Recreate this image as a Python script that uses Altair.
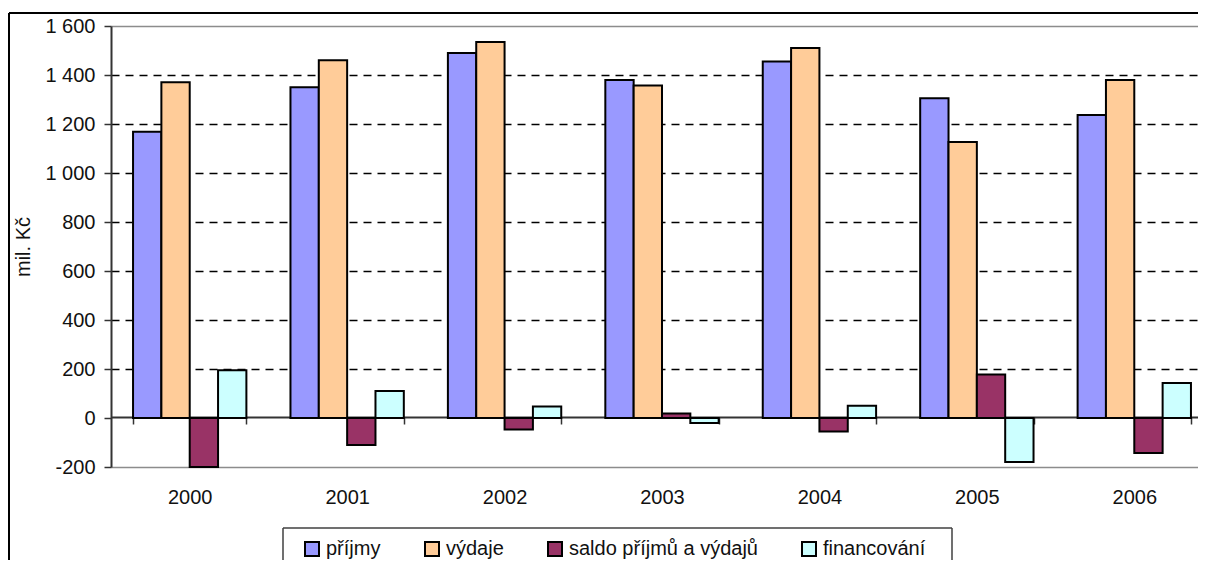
import altair as alt
import pandas as pd

years = ["2000", "2001", "2002", "2003", "2004", "2005", "2006"]
series = ["příjmy", "výdaje", "saldo příjmů a výdajů", "financování"]
prijmy = [1168, 1350, 1490, 1380, 1455, 1305, 1237]
vydaje = [1370, 1460, 1535, 1357, 1510, 1127, 1380]
saldo = [-200, -110, -47, 18, -55, 178, -143]
financovani = [195, 110, 47, -20, 50, -180, 143]
colors = ["#9999FF", "#FFCC99", "#993366", "#CCFFFF"]
y_ticks = [-200, 0, 200, 400, 600, 800, 1000, 1200, 1400, 1600]

rows = []
for s, vals in zip(series, [prijmy, vydaje, saldo, financovani]):
    for yr, v in zip(years, vals):
        rows.append({"year": yr, "series": s, "value": v})
df = pd.DataFrame(rows)

FONT = "Liberation Sans"
TXT = "#111111"
W, H = 1087, 441
PAD = {"left": 103, "top": 18, "right": 0, "bottom": 93}

bars = alt.Chart(df).mark_bar(stroke="black", strokeWidth=2).encode(
    x=alt.X(
        "year:N",
        sort=years,
        scale=alt.Scale(range=[0, 1102], paddingInner=0.28, paddingOuter=0.14),
        axis=alt.Axis(
            title=None, offset=-50, tickBand="extent", tickSize=7,
            tickColor="#333333", tickWidth=1.5, domainColor="#333333",
            domainWidth=2, labelAngle=0, labelFontSize=20, labelFont=FONT,
            labelColor=TXT, labelPadding=63,
        ),
    ),
    xOffset=alt.XOffset("series:N", sort=series,
                        scale=alt.Scale(paddingInner=0, paddingOuter=0)),
    y=alt.Y(
        "value:Q",
        scale=alt.Scale(domain=[-200, 1600], nice=False, zero=False),
        axis=alt.Axis(
            values=y_ticks, title="mil. Kč", titleFontSize=20, titleFont=FONT,
            titleFontWeight="normal", titleColor=TXT, titleAngle=270,
            titleX=-88, titleY=220.5, titleAlign="center", titleBaseline="middle",
            labelExpr="replace(replace(format(datum.value, ','), ',', ' '), '\u2212', '-')",
            labelFontSize=20, labelFont=FONT, labelColor=TXT, labelPadding=9,
            tickSize=7, tickColor="#333333", tickWidth=1.5,
            domainColor="#333333", domainWidth=2,
            grid=True, gridWidth=1.5,
            gridColor={"condition": {"test": "datum.value == 1600 || datum.value == -200",
                                     "value": "#8c8c8c"}, "value": "#000000"},
            gridDash={"condition": {"test": "datum.value == 1600 || datum.value == -200",
                                    "value": []}, "value": [8, 6]},
            gridOpacity={"condition": {"test": "datum.value == 0", "value": 0}, "value": 1},
        ),
    ),
    color=alt.Color(
        "series:N", sort=series,
        scale=alt.Scale(domain=series, range=colors),
        legend=alt.Legend(
            title=None, orient="none", legendX=191, legendY=513,
            direction="horizontal", symbolType="square", symbolSize=196,
            symbolStrokeColor="black", symbolStrokeWidth=2, symbolOpacity=1,
            labelFontSize=20, labelFont=FONT, labelColor=TXT, labelOffset=4,
            labelLimit=400, columnPadding=40, padding=0,
        ),
    ),
)

bottom = H + PAD["bottom"]
one = pd.DataFrame({"a": [0]})
# outer chart frame (left and top edges; the rest lies outside the picture)
frame_top = alt.Chart(one).mark_rule(color="black", strokeWidth=2).encode(
    x=alt.value(-102), x2=alt.value(W + 20), y=alt.value(-13)
)
frame_left = alt.Chart(one).mark_rule(color="black", strokeWidth=2).encode(
    x=alt.value(-102), y=alt.value(-13), y2=alt.value(bottom)
)
# legend box edges
box_top = alt.Chart(one).mark_rule(color="#404040", strokeWidth=1.5).encode(
    x=alt.value(172), x2=alt.value(841), y=alt.value(502)
)
box_left = alt.Chart(one).mark_rule(color="#404040", strokeWidth=1.5).encode(
    x=alt.value(172), y=alt.value(502), y2=alt.value(bottom)
)
box_right = alt.Chart(one).mark_rule(color="#404040", strokeWidth=1.5).encode(
    x=alt.value(841), y=alt.value(502), y2=alt.value(bottom)
)

chart = alt.layer(frame_top, frame_left, box_top, box_left, box_right, bars).properties(
    width=W,
    height=H,
    autosize=alt.AutoSizeParams(type="none"),
    padding=PAD,
).configure(background="white").configure_view(stroke="transparent", strokeWidth=0)

chart.save("out.html", embed_options={"renderer": "svg", "actions": False})
